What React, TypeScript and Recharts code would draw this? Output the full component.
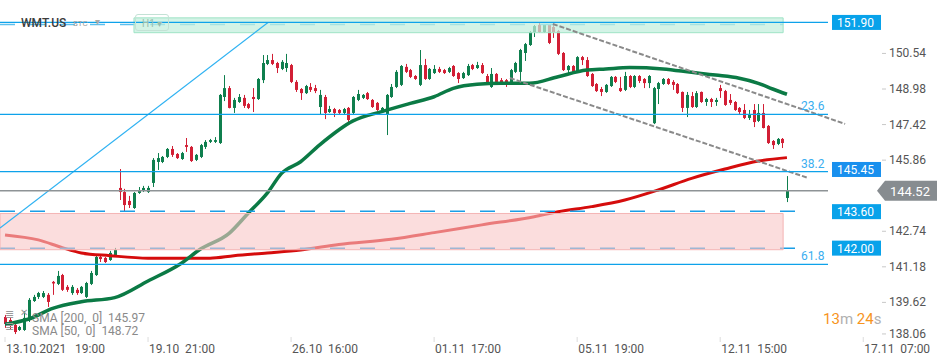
import React from 'react';
import {
  ComposedChart,
  Bar,
  Line,
  XAxis,
  YAxis,
  ReferenceLine,
  ReferenceArea,
} from 'recharts';

// WMT.US H1 candles, 13.10.2021 19:00 -> 16.11.2021 15:00
const opens = [
  138.98, 138.85, 138.63, 138.41, 138.41, 138.85, 139.68, 139.86, 139.86, 139.95,
  140.52, 140.43, 140.82, 140.30, 140.03, 140.17, 140.03, 139.86, 140.43, 140.82,
  141.61, 141.57, 141.48, 141.70, 144.64, 144.46, 144.07, 143.76, 144.42, 144.51,
  144.46, 144.86, 145.78, 145.78, 146.00, 146.35, 146.13, 145.91, 146.52, 146.44,
  145.87, 146.00, 146.44, 146.66, 146.66, 146.61, 148.63, 149.02, 148.15, 148.41,
  148.59, 148.32, 148.63, 148.54, 149.37, 150.08, 150.25, 150.12, 149.86, 149.90,
  150.03, 149.29, 148.98, 148.80, 149.07, 149.02, 148.19, 148.63, 147.97, 148.10,
  148.06, 147.93, 148.15, 147.93, 148.50, 148.59, 148.80, 148.50, 148.37, 147.97,
  147.84, 148.63, 149.07, 149.16, 149.95, 149.81, 149.55, 149.16, 150.03, 149.42,
  149.68, 149.86, 149.81, 149.73, 149.99, 149.68, 149.46, 149.59, 150.03, 149.90,
  150.03, 149.55, 149.07, 149.64, 149.37, 149.37, 149.24, 149.73, 149.73, 150.56,
  150.91, 151.48, 151.79, 151.48, 151.79, 151.70, 151.52, 150.56, 149.81, 149.99,
  149.73, 150.38, 150.25, 149.64, 149.20, 148.98, 148.85, 149.11, 149.51, 149.02,
  148.94, 149.55, 149.07, 149.55, 149.42, 149.24, 147.48, 148.98, 149.20, 149.42,
  149.29, 149.20, 148.85, 148.15, 148.67, 148.19, 148.85, 148.41, 148.54, 148.41,
  149.02, 148.89, 148.50, 148.41, 148.15, 148.06, 147.71, 148.06, 147.58, 147.93,
  147.36, 146.70, 146.57, 146.79, 144.20,
];
const highs = [
  139.07, 138.94, 138.67, 138.59, 139.24, 139.81, 139.95, 140.08, 140.12, 140.03,
  140.56, 141.00, 140.87, 140.38, 140.38, 140.25, 140.34, 140.52, 141.00, 141.70,
  141.70, 141.61, 141.88, 142.01, 145.47, 144.60, 144.29, 144.46, 144.68, 144.73,
  144.73, 145.95, 146.17, 146.04, 146.39, 146.48, 146.17, 146.22, 146.83, 146.48,
  146.13, 146.57, 146.74, 146.79, 146.87, 148.76, 149.59, 149.11, 148.59, 148.76,
  148.72, 148.37, 149.02, 149.46, 150.47, 150.47, 150.52, 150.17, 150.25, 150.52,
  150.08, 149.37, 149.02, 149.16, 149.24, 149.16, 148.94, 148.72, 148.24, 148.15,
  148.10, 148.15, 148.19, 148.67, 148.94, 148.76, 148.85, 148.54, 148.41, 148.19,
  148.76, 149.20, 149.81, 150.03, 150.08, 149.86, 149.59, 150.69, 150.30, 149.90,
  150.03, 149.95, 149.86, 149.95, 150.03, 149.72, 149.73, 150.08, 150.08, 150.17,
  150.12, 149.64, 149.90, 149.68, 149.46, 149.42, 149.86, 150.17, 150.74, 151.00,
  151.52, 151.79, 151.88, 151.83, 151.83, 151.79, 151.57, 150.60, 150.03, 150.03,
  150.42, 150.43, 150.38, 149.68, 149.24, 149.07, 149.20, 149.55, 149.55, 149.51,
  149.73, 149.59, 149.59, 149.59, 149.46, 149.59, 149.07, 149.29, 149.46, 149.46,
  149.37, 149.24, 148.87, 148.85, 148.85, 148.89, 148.87, 148.59, 148.59, 148.59,
  149.16, 148.94, 148.76, 148.45, 148.19, 148.32, 148.06, 148.32, 148.32, 148.32,
  147.40, 146.74, 146.83, 146.83, 145.16,
];
const lows = [
  138.50, 138.41, 138.23, 138.37, 138.37, 138.76, 139.64, 139.77, 139.81, 139.42,
  139.95, 140.38, 140.12, 140.08, 139.95, 139.95, 139.99, 139.81, 140.38, 140.78,
  141.39, 141.35, 141.44, 141.66, 144.11, 143.59, 143.76, 143.72, 144.38, 144.46,
  144.42, 144.68, 145.43, 145.73, 145.95, 146.00, 145.91, 145.87, 146.22, 145.78,
  145.82, 145.95, 146.35, 146.61, 146.61, 146.57, 148.45, 148.13, 147.93, 148.37,
  148.15, 148.10, 147.97, 148.50, 149.24, 150.03, 150.03, 149.68, 149.81, 149.73,
  149.24, 148.85, 148.50, 148.76, 148.85, 148.80, 147.84, 147.66, 147.93, 147.75,
  147.88, 147.88, 147.53, 147.84, 148.45, 148.54, 148.50, 148.15, 148.02, 147.93,
  146.96, 148.59, 149.02, 149.11, 149.68, 149.46, 149.38, 149.11, 149.38, 149.38,
  149.64, 149.68, 149.64, 149.68, 149.51, 149.24, 149.42, 149.55, 149.81, 149.86,
  149.64, 149.16, 149.03, 149.24, 149.20, 149.07, 149.20, 149.68, 149.29, 150.21,
  150.87, 151.26, 151.44, 151.44, 150.95, 151.22, 150.47, 149.77, 149.68, 149.68,
  149.68, 150.03, 149.51, 149.07, 148.85, 148.67, 148.81, 149.07, 149.24, 148.85,
  148.89, 149.02, 149.02, 149.24, 149.02, 149.02, 147.44, 148.32, 149.16, 149.16,
  148.94, 148.76, 147.97, 147.75, 148.15, 148.15, 148.37, 148.24, 148.19, 148.24,
  148.59, 148.24, 148.28, 148.02, 147.84, 147.66, 147.62, 147.31, 147.53, 147.25,
  146.57, 146.35, 146.52, 146.39, 144.02,
];
const closes = [
  138.67, 138.59, 138.32, 138.54, 138.94, 139.73, 139.86, 140.03, 140.03, 139.64,
  140.45, 140.78, 140.17, 140.17, 140.30, 140.03, 140.30, 140.47, 140.91, 141.61,
  141.52, 141.39, 141.79, 141.92, 144.46, 143.89, 143.89, 144.42, 144.55, 144.64,
  144.64, 145.87, 145.95, 146.00, 146.35, 146.09, 145.95, 146.17, 146.44, 145.82,
  146.09, 146.52, 146.66, 146.74, 146.74, 148.72, 149.02, 148.15, 148.50, 148.63,
  148.24, 148.15, 148.54, 149.42, 150.12, 150.25, 150.08, 149.90, 150.17, 150.12,
  149.29, 148.94, 148.80, 149.11, 148.94, 148.89, 148.72, 147.93, 148.10, 147.93,
  147.93, 148.10, 147.62, 148.63, 148.76, 148.72, 148.54, 148.19, 148.06, 148.15,
  148.72, 149.07, 149.73, 149.99, 149.73, 149.51, 149.42, 150.03, 149.42, 149.86,
  149.86, 149.73, 149.68, 149.90, 149.55, 149.42, 149.68, 149.99, 149.86, 150.03,
  149.68, 149.24, 149.64, 149.29, 149.24, 149.24, 149.81, 150.12, 150.69, 150.95,
  151.48, 151.74, 151.48, 151.79, 151.00, 151.48, 150.52, 149.81, 149.99, 149.73,
  150.38, 150.25, 149.55, 149.11, 148.89, 148.85, 149.16, 149.51, 149.29, 148.89,
  149.55, 149.07, 149.55, 149.33, 149.24, 149.55, 149.02, 149.24, 149.42, 149.20,
  149.16, 148.80, 148.15, 148.72, 148.19, 148.80, 148.41, 148.54, 148.41, 148.50,
  148.89, 148.28, 148.37, 148.06, 147.97, 147.71, 147.88, 147.53, 147.93, 147.27,
  146.61, 146.52, 146.79, 146.61, 144.52,
];

// moving averages, read at sample candles
const sma50Idx = [0, 5, 10, 16, 23, 30, 37, 41, 47, 51, 55, 58, 62, 66, 73, 79, 85, 90, 94, 99, 104, 110, 116, 122, 126, 131, 138, 144, 149, 154, 158, 161, 164];
const sma50Val = [138.66, 138.89, 139.36, 139.65, 139.83, 140.56, 141.34, 141.96, 142.65, 143.53, 144.41, 145.28, 145.79, 146.53, 147.58, 147.99, 148.35, 148.64, 149.01, 149.19, 149.23, 149.23, 149.52, 149.81, 149.86, 149.92, 149.86, 149.71, 149.59, 149.45, 149.23, 148.98, 148.75];
const sma200Idx = [0, 7, 12, 16, 22, 30, 37, 43, 48, 55, 62, 70, 81, 90, 100, 111, 116, 123, 130, 137, 144, 151, 158, 164];
const sma200Val = [142.58, 142.36, 142.02, 141.79, 141.67, 141.56, 141.56, 141.56, 141.67, 141.79, 141.92, 142.16, 142.39, 142.68, 143.02, 143.38, 143.60, 143.82, 144.11, 144.55, 145.06, 145.47, 145.82, 145.97];

const timeTicks = [0, 30, 60, 90, 120, 150, 180];
const timeDates = ['13.10.2021', '19.10', '26.10', '01.11', '05.11', '12.11', '17.11'];
const timeHours = ['19:00', '21:00', '16:00', '17:00', '19:00', '15:00', '07:00'];

const priceTicks = [150.54, 148.98, 147.42, 145.86, 142.74, 141.18, 139.62, 138.06];

const fibLevels = [147.87, 145.36, 141.29];
const fibNames = ['23.6', '38.2', '61.8'];

const X_MIN = -1.05;
const X_MAX = 172.61;
const Y_MIN = 137.97;
const Y_MAX = 152.884;

const GREEN = '#0f7f4e';
const RED = '#d21f35';
const BLUE = '#0ea2ea';
const FONT = 'Roboto, sans-serif';

const candles = opens.map((o, i) => ({
  i,
  open: o,
  high: highs[i],
  low: lows[i],
  close: closes[i],
}));
const sma50 = sma50Idx.map((i, k) => ({ i, v: sma50Val[k] }));
const sma200 = sma200Idx.map((i, k) => ({ i, v: sma200Val[k] }));

function Candle(props: any) {
  const { x, y, width, height, payload } = props;
  if (!payload || height == null) return null;
  const { open, close, high, low } = payload;
  const cx = Math.round(x + width / 2) + 0.5;
  const k = high - low > 0 ? height / (high - low) : 0;
  const yo = y + (high - open) * k;
  const yc = y + (high - close) * k;
  const color = close >= open ? GREEN : RED;
  const top = Math.min(yo, yc);
  const bh = Math.max(1, Math.abs(yo - yc));
  return (
    <g>
      <line x1={cx} x2={cx} y1={y} y2={y + height} stroke={color} strokeWidth={1} />
      <rect x={cx - 1.5} y={top} width={3} height={bh} fill={color} />
    </g>
  );
}

function TimeTick(props: any) {
  const { x, y, payload } = props;
  const k = timeTicks.indexOf(payload.value);
  if (k < 0) return null;
  return (
    <g>
      <line x1={x} x2={x} y1={y - 3} y2={y + 2} stroke="#dcdcdc" />
      <text x={x + 1} y={y + 13} fontSize={12} fill="#555" fontFamily={FONT}>
        {timeDates[k]}
      </text>
      <text x={x + (k === 0 ? 70 : 37)} y={y + 13} fontSize={12} fill="#555" fontFamily={FONT}>
        {timeHours[k]}
      </text>
    </g>
  );
}

function PriceTick(props: any) {
  const { x, y, payload } = props;
  const v = payload.value as number;
  const ty = v < 138.5 ? y - 4 : y;
  return (
    <g>
      <line x1={x + 54} x2={x + 58} y1={ty} y2={ty} stroke="#c8c8c8" />
      <text x={x + 61} y={ty + 4} fontSize={12} fill="#555" fontFamily={FONT}>
        {v.toFixed(2)}
      </text>
    </g>
  );
}

function PriceTag(props: any) {
  const { viewBox, text, fill } = props;
  if (!viewBox) return null;
  const bx = viewBox.x + viewBox.width + 4;
  const by = viewBox.y;
  return (
    <g>
      <rect x={bx} y={by - 7.5} width={49} height={15} fill={fill} />
      <text x={bx + 5} y={by + 4.5} fontSize={12} fill="#fff" fontFamily={FONT}>
        {text}
      </text>
    </g>
  );
}

function LastTag(props: any) {
  const { viewBox, text } = props;
  if (!viewBox) return null;
  const bx = viewBox.x + viewBox.width + 49;
  const by = viewBox.y;
  const pts = `${bx},${by} ${bx + 8},${by - 10} ${bx + 60},${by - 10} ${bx + 60},${by + 10} ${bx + 8},${by + 10}`;
  return (
    <g>
      <polygon points={pts} fill="#878c90" />
      <text x={bx + 13} y={by + 5} fontSize={13} fill="#fff" fontFamily={FONT}>
        {text}
      </text>
    </g>
  );
}

function FibTag(props: any) {
  const { viewBox, text } = props;
  if (!viewBox) return null;
  return (
    <text
      x={viewBox.x + viewBox.width - 27}
      y={viewBox.y - 4}
      fontSize={12}
      fill="#3aaef0"
      fontFamily={FONT}
    >
      {text}
    </text>
  );
}

export default function App() {
  return (
    <div style={{ position: 'relative', width: 950, height: 364, fontFamily: FONT }}>
      <style>{'body{margin:0;background:#fff}'}</style>
      <ComposedChart
        width={950}
        height={364}
        data={candles}
        margin={{ top: 0, right: 0, bottom: 0, left: 0 }}
      >
        <XAxis
          dataKey="i"
          type="number"
          domain={[X_MIN, X_MAX]}
          allowDataOverflow
          ticks={timeTicks}
          interval={0}
          tick={<TimeTick />}
          tickSize={0}
          tickMargin={0}
          axisLine={false}
          tickLine={false}
          height={24}
        />
        <YAxis
          orientation="right"
          domain={[Y_MIN, Y_MAX]}
          allowDataOverflow
          ticks={priceTicks}
          interval={0}
          tick={<PriceTick />}
          tickSize={0}
          tickMargin={0}
          axisLine={false}
          tickLine={false}
          width={122}
        />

        <Bar
          dataKey={(d: any) => [d.low, d.high]}
          shape={<Candle />}
          barSize={3}
          isAnimationActive={false}
        />

        <Line
          data={sma200}
          dataKey="v"
          type="monotone"
          stroke="#d50c0c"
          strokeWidth={3}
          dot={false}
          activeDot={false}
          isAnimationActive={false}
        />
        <Line
          data={sma50}
          dataKey="v"
          type="monotone"
          stroke="#0b7a45"
          strokeWidth={3.5}
          dot={false}
          activeDot={false}
          isAnimationActive={false}
        />

        {/* dashed level lines under the zones */}
        <ReferenceLine
          segment={[{ x: X_MIN, y: 151.81 }, { x: 163.2, y: 151.81 }]}
          stroke="#5cc0ee"
          strokeDasharray="15 15"
          strokeWidth={1.5}
          zIndex={410}
        />
        <ReferenceLine
          segment={[{ x: X_MIN, y: 143.62 }, { x: 166.3, y: 143.62 }]}
          stroke="#1a9ee6"
          strokeDasharray="15 15"
          strokeWidth={1.5}
          zIndex={410}
        />
        <ReferenceLine
          segment={[{ x: X_MIN, y: 142.0 }, { x: 166.3, y: 142.0 }]}
          stroke="#1a9ee6"
          strokeDasharray="15 15"
          strokeWidth={1.5}
          zIndex={410}
        />

        <ReferenceArea
          x1={27.05}
          x2={163.2}
          y1={151.45}
          y2={152.1}
          fill="#c2efdc"
          fillOpacity={0.72}
          stroke="#9fe3c6"
          strokeWidth={1}
          zIndex={450}
        />
        <ReferenceArea
          x1={X_MIN}
          x2={163.2}
          y1={141.93}
          y2={143.52}
          fill="#f9c6c6"
          fillOpacity={0.6}
          stroke="#f4b4b4"
          strokeWidth={1}
          zIndex={450}
        />

        {/* trend channel */}
        <ReferenceLine
          segment={[{ x: 114.9, y: 151.83 }, { x: 176.2, y: 147.45 }]}
          stroke="#8a8a8a"
          strokeWidth={2}
          strokeDasharray="5 2"
          ifOverflow="visible"
          zIndex={460}
        />
        <ReferenceLine
          segment={[{ x: 105.9, y: 149.46 }, { x: 168.4, y: 145.08 }]}
          stroke="#8a8a8a"
          strokeWidth={2}
          strokeDasharray="5 2"
          ifOverflow="visible"
          zIndex={460}
        />

        <ReferenceLine
          segment={[{ x: X_MIN, y: 142.88 }, { x: 55.16, y: 151.9 }]}
          stroke="#2fb2f2"
          strokeWidth={1.2}
          zIndex={460}
        />

        <ReferenceLine
          y={151.9}
          stroke={BLUE}
          strokeWidth={1.2}
          label={<PriceTag text="151.90" fill="#08a2ea" />}
          zIndex={470}
        />
        {fibLevels.map((lv, k) => (
          <ReferenceLine
            key={fibNames[k]}
            y={lv}
            stroke={BLUE}
            strokeWidth={1.2}
            label={<FibTag text={fibNames[k]} />}
            zIndex={470}
          />
        ))}
        <ReferenceLine
          y={145.45}
          stroke="none"
          strokeOpacity={0}
          label={<PriceTag text="145.45" fill="#1990ee" />}
          zIndex={470}
        />
        <ReferenceLine
          y={143.6}
          stroke="none"
          strokeOpacity={0}
          label={<PriceTag text="143.60" fill="#08a2ea" />}
          zIndex={470}
        />
        <ReferenceLine
          y={142.0}
          stroke="none"
          strokeOpacity={0}
          label={<PriceTag text="142.00" fill="#08a2ea" />}
          zIndex={470}
        />
        <ReferenceLine
          y={144.52}
          stroke="#8e9396"
          strokeWidth={1.5}
          label={<LastTag text="144.52" />}
          zIndex={470}
        />
      </ComposedChart>

      <div style={{ position: 'absolute', left: 0, top: 0, width: 950, height: 364, pointerEvents: 'none' }}>
        <div style={{ position: 'absolute', left: 21, top: 16, fontSize: 12, fontWeight: 500, color: '#3c3c3c', lineHeight: '14px' }}>
          WMT.US
        </div>
        <div style={{ position: 'absolute', left: 73, top: 18, fontSize: 8, color: '#9a9a9a', lineHeight: '12px' }}>
          STC
        </div>
        <div style={{ position: 'absolute', left: 95, top: 16, fontSize: 10, color: '#aaa', lineHeight: '12px' }}>▾</div>
        <div
          style={{
            position: 'absolute',
            left: 135,
            top: 14,
            width: 34,
            height: 17,
            border: '1px solid #c3e2d5',
            borderRadius: 3,
            fontSize: 10,
            color: '#97bcad',
            lineHeight: '17px',
            paddingLeft: 6,
            boxSizing: 'border-box',
          }}
        >
          H1 ▾
        </div>

        <div style={{ position: 'absolute', left: 5, top: 309, fontSize: 11, color: '#9a9a9a', lineHeight: '12px' }}>≣</div>
        <div style={{ position: 'absolute', left: 20, top: 307, fontSize: 10, color: '#9a9a9a', lineHeight: '12px' }}>✕</div>
        <div style={{ position: 'absolute', left: 5, top: 321, fontSize: 11, color: '#9a9a9a', lineHeight: '12px' }}>≣</div>
        <div style={{ position: 'absolute', left: 32, top: 311, fontSize: 12, color: '#8a8a8a', lineHeight: '14px', whiteSpace: 'pre' }}>
          {'SMA [200,  0]  145.97'}
        </div>
        <div style={{ position: 'absolute', left: 32, top: 324, fontSize: 12, color: '#8a8a8a', lineHeight: '14px', whiteSpace: 'pre' }}>
          {'SMA [50,  0]  148.72'}
        </div>

        <div style={{ position: 'absolute', left: 823, top: 310, fontSize: 15, lineHeight: '18px', whiteSpace: 'pre' }}>
          <span style={{ color: '#f7941d' }}>13</span>
          <span style={{ color: '#b0b0b0' }}>m </span>
          <span style={{ color: '#f7941d' }}>24</span>
          <span style={{ color: '#b0b0b0' }}>s</span>
        </div>
      </div>
    </div>
  );
}
